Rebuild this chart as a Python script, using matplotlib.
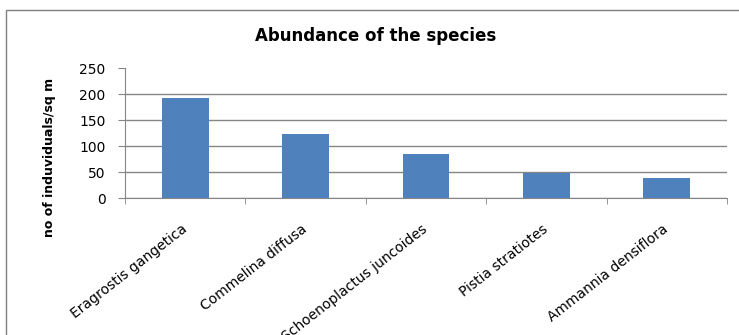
import matplotlib

matplotlib.use("Agg")
import matplotlib.pyplot as plt
from matplotlib.patches import Rectangle

species = [
    "Eragrostis gangetica",
    "Commelina diffusa",
    "Schoenoplactus juncoides",
    "Pistia stratiotes",
    "Ammannia densiflora",
]
abundance = [192, 124, 85, 49, 39]
y_ticks = [0, 50, 100, 150, 200, 250]

BAR = "#4F81BD"
GRID = "#868686"

plt.rcParams["font.family"] = ["DejaVu Sans"]

W, H = 739, 335
fig = plt.figure(figsize=(W / 100, H / 100), dpi=100)

# chart frame (bottom and right edges fall outside the image)
fig.patches.append(Rectangle((6 / W, -0.2), 1.2, 1.2 - 10 / H,
                             transform=fig.transFigure, fill=False,
                             edgecolor="#7f7f7f", linewidth=1.0, zorder=0))

ax = fig.add_axes([125 / W, 1 - 198 / H, (727 - 125) / W, (198 - 68) / H])
x = list(range(len(species)))
ax.bar(x, abundance, width=0.39, color=BAR, zorder=3)

ax.set_xlim(-0.5, len(species) - 0.5)
ax.set_ylim(0, 250)
ax.set_yticks(y_ticks)
ax.tick_params(axis="y", length=5, color=GRID, labelsize=10, pad=9)
ax.yaxis.grid(True, color=GRID, linewidth=1.0, zorder=0)
ax.yaxis.get_gridlines()[-1].set_visible(False)

ax.set_xticks(x)
ax.set_xticklabels(species, rotation=38, ha="right", va="center",
                   rotation_mode="anchor", fontsize=10)
ax.tick_params(axis="x", which="major", length=0, pad=21)
ax.set_xticks([i - 0.5 for i in range(len(species) + 1)], minor=True)
ax.tick_params(axis="x", which="minor", length=4, color=GRID)

for side in ("top", "right"):
    ax.spines[side].set_visible(False)
for side in ("left", "bottom"):
    ax.spines[side].set_color(GRID)

fig.text(376 / W, 1 - 36 / H, "Abundance of the species", ha="center",
         va="center", fontsize=12, fontweight="bold")
fig.text(50 / W, 1 - 157 / H, "no of induviduals/sq m", ha="center",
         va="center", rotation=90, fontsize=9, fontweight="bold")

fig.savefig("out.png", dpi=100)
